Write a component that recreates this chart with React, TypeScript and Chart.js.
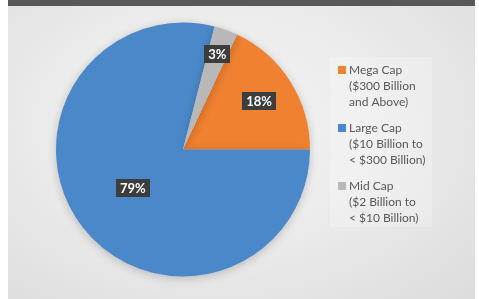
import React, { useEffect, useRef } from "react";
import { Chart, registerables } from "chart.js";

Chart.register(...registerables);

const categories = ["Mega Cap", "Large Cap", "Mid Cap"];
const legendLines = [
  ["Mega Cap", "($300 Billion", "and Above)"],
  ["Large Cap", "($10 Billion to", "< $300 Billion)"],
  ["Mid Cap", "($2 Billion to", "< $10 Billion)"],
];
const shares = [18, 79, 3];
const labelTexts = ["18%", "79%", "3%"];
const colors = ["#ef8130", "#4a88c9", "#b8b8b8"];
const labelRadiusFractions = [0.71, 0.5, 0.8];

const FONT = "Lato, 'Open Sans', sans-serif";

const shadowPlugin = {
  id: "pieShadow",
  beforeDatasetsDraw(chart: any) {
    const ctx = chart.ctx;
    ctx.save();
    ctx.shadowColor = "rgba(0,0,0,0.2)";
    ctx.shadowBlur = 10;
    ctx.shadowOffsetX = 0;
    ctx.shadowOffsetY = 2;
  },
  afterDatasetsDraw(chart: any) {
    chart.ctx.restore();
  },
};

const labelPlugin = {
  id: "boxLabels",
  afterDatasetsDraw(chart: any) {
    const ctx = chart.ctx;
    const meta = chart.getDatasetMeta(0);
    ctx.save();
    ctx.font = `bold 13px ${FONT}`;
    ctx.textAlign = "center";
    ctx.textBaseline = "middle";
    meta.data.forEach((arc: any, i: number) => {
      const { x, y, startAngle, endAngle, outerRadius } = arc.getProps(
        ["x", "y", "startAngle", "endAngle", "outerRadius"],
        true
      );
      const mid = (startAngle + endAngle) / 2;
      const r = outerRadius * labelRadiusFractions[i];
      const lx = x + Math.cos(mid) * r;
      const ly = y + Math.sin(mid) * r;
      const text = labelTexts[i];
      const w = ctx.measureText(text).width + 8;
      const h = 18;
      ctx.fillStyle = "#3d3d3d";
      ctx.fillRect(Math.round(lx - w / 2), Math.round(ly - h / 2), Math.round(w), h);
      ctx.fillStyle = "#ffffff";
      ctx.fillText(text, lx, ly + 0.5);
    });
    ctx.restore();
  },
};

const legendPlugin = {
  id: "sideLegend",
  afterDraw(chart: any) {
    const ctx = chart.ctx;
    const ox = -8;
    const oy = -6;
    ctx.save();
    ctx.fillStyle = "rgba(255,255,255,0.22)";
    ctx.fillRect(330 + ox, 57 + oy, 102, 170);
    ctx.font = `12px ${FONT}`;
    ctx.textBaseline = "middle";
    ctx.textAlign = "left";
    legendLines.forEach((lines, i) => {
      const baseY = 70 + i * 58 + oy;
      ctx.fillStyle = colors[i];
      ctx.fillRect(338 + ox, baseY - 4, 8, 8);
      ctx.fillStyle = "#595959";
      lines.forEach((line, j) => {
        ctx.fillText(line, 349 + ox, baseY + j * 16);
      });
    });
    ctx.restore();
  },
};

export default function App() {
  const ref = useRef<HTMLCanvasElement>(null);
  useEffect(() => {
    const chart = new Chart(ref.current!, {
      type: "pie",
      data: {
        labels: categories,
        datasets: [
          {
            data: shares,
            backgroundColor: colors,
            borderWidth: 0,
          },
        ],
      },
      options: {
        animation: false,
        responsive: false,
        rotation: 25.2,
        layout: { padding: { left: 48, top: 16.5, right: 165, bottom: 22.5 } },
        plugins: {
          legend: { display: false },
          tooltip: { enabled: false },
        },
      },
      plugins: [shadowPlugin, labelPlugin, legendPlugin],
    });
    return () => chart.destroy();
  }, []);

  return (
    <div
      style={{
        position: "fixed",
        left: 0,
        top: 0,
        width: 479,
        height: 299,
        background: "#ffffff",
        overflow: "hidden",
      }}
    >
      <div
        style={{
          position: "absolute",
          left: 8,
          top: 0,
          width: 467,
          height: 6,
          background: "#58585a",
        }}
      />
      <div
        style={{
          position: "absolute",
          left: 8,
          top: 6,
          width: 467,
          height: 293,
          background:
            "radial-gradient(ellipse at 45% 40%, #f4f4f4 0%, #ececec 45%, #dcdcdc 100%)",
        }}
      >
        <canvas ref={ref} width={467} height={293} style={{ display: "block" }} />
      </div>
    </div>
  );
}
